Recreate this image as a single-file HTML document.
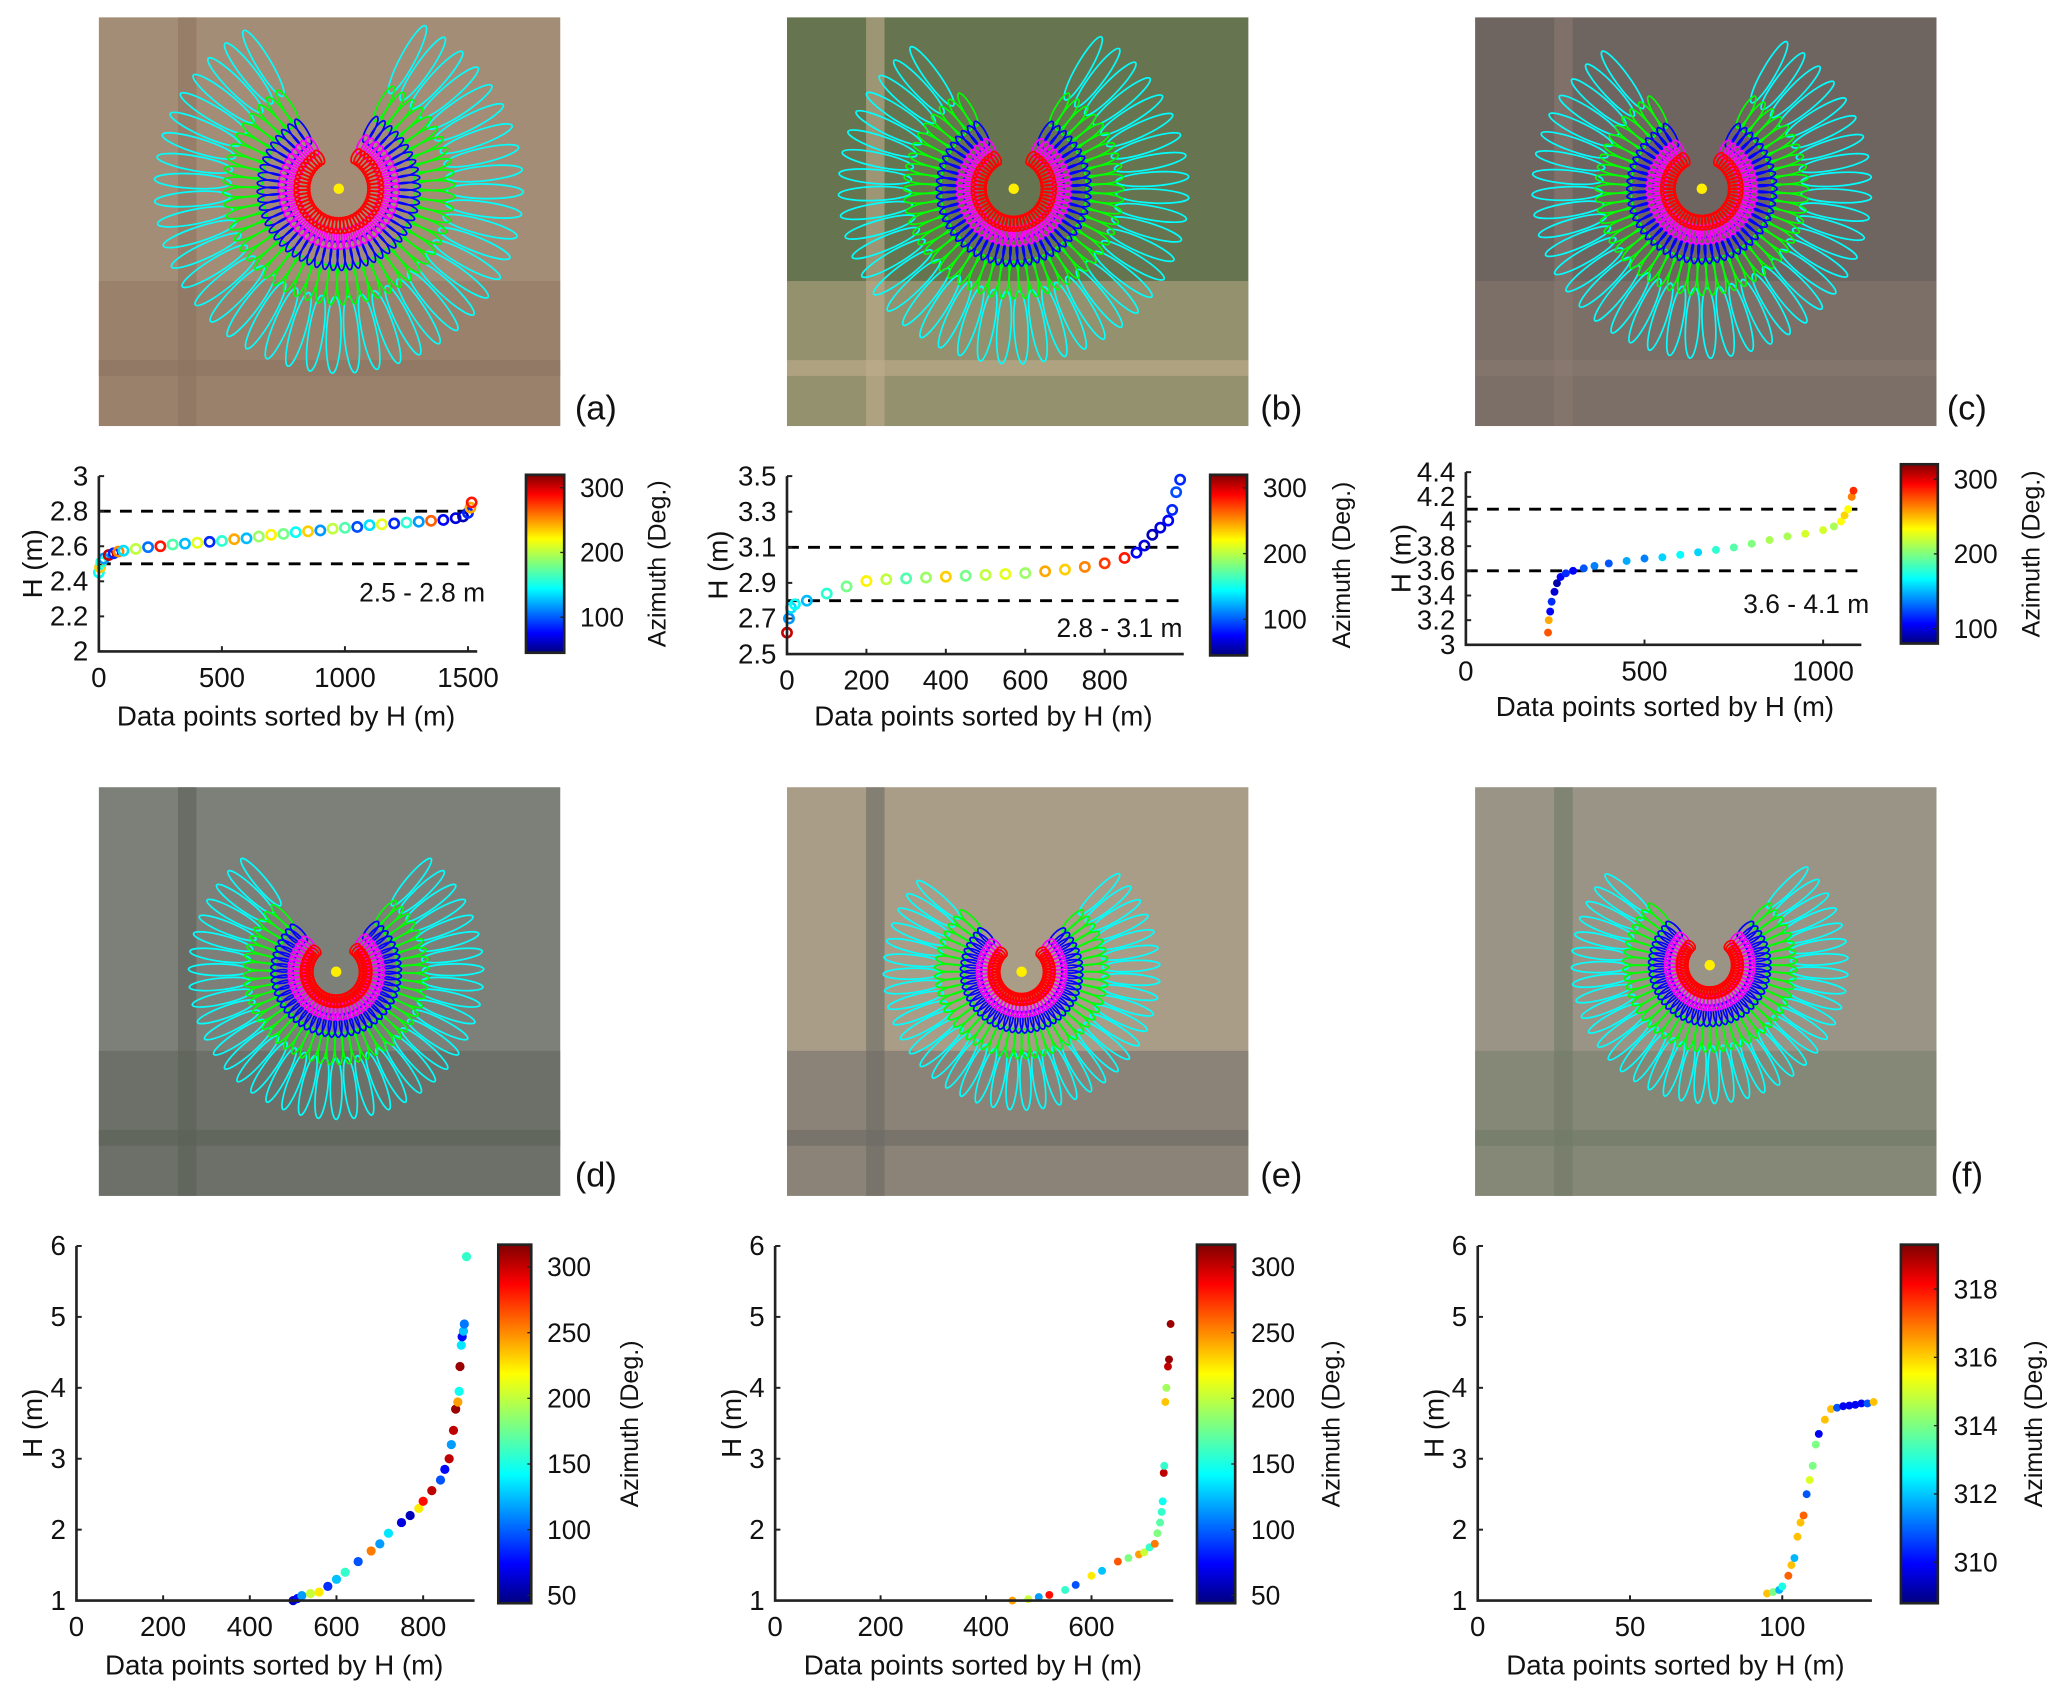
<!DOCTYPE html>
<html><head><meta charset="utf-8"><style>
html,body{margin:0;padding:0;background:#fff;}
svg{display:block;font-family:"Liberation Sans",Arial,sans-serif;}
</style></head><body>
<svg id="fig" width="2067" height="1701" viewBox="0 0 1568 1290" xmlns="http://www.w3.org/2000/svg">
<defs>
<linearGradient id="jet" x1="0" y1="1" x2="0" y2="0">
<stop offset="0" stop-color="#00007f"/><stop offset="0.11" stop-color="#0000ff"/><stop offset="0.36" stop-color="#00ffff"/><stop offset="0.5" stop-color="#7fff7f"/><stop offset="0.64" stop-color="#ffff00"/><stop offset="0.89" stop-color="#ff0000"/><stop offset="1" stop-color="#7f0000"/>
</linearGradient>
</defs>
<g id="root"></g>
</svg>
<script>
// ---- chart data (a) ----
const aX=[0,5,10,20,40,60,80,100,150,200,250,300,350,400,450,500,550,600,650,700,750,800,850,900,950,1000,1050,1100,1150,1200,1250,1300,1350,1400,1450,1480,1500,1510,1515];
const aH=[2.45,2.48,2.51,2.53,2.55,2.56,2.57,2.575,2.585,2.595,2.60,2.61,2.615,2.62,2.625,2.63,2.64,2.645,2.655,2.665,2.67,2.68,2.685,2.69,2.70,2.705,2.71,2.72,2.725,2.73,2.735,2.74,2.745,2.75,2.76,2.77,2.79,2.82,2.85];
const aAz=[150,230,160,120,300,90,250,140,200,110,280,170,130,210,90,160,240,130,190,220,180,150,230,120,200,170,100,140,210,90,160,120,260,80,70,60,90,240,280];
// ---- chart data (b) ----
const bX=[0,5,10,20,50,100,150,200,250,300,350,400,450,500,550,600,650,700,750,800,850,880,900,920,940,960,970,980,990];
const bH=[2.62,2.7,2.76,2.78,2.8,2.84,2.88,2.91,2.92,2.925,2.93,2.935,2.94,2.945,2.95,2.955,2.965,2.975,2.99,3.01,3.04,3.07,3.11,3.17,3.21,3.25,3.31,3.41,3.48];
const bAz=[300,120,140,150,130,160,180,220,200,170,190,230,180,200,210,190,240,230,250,270,280,80,70,60,70,80,90,100,90];
// ---- chart data (c) ----
const cX=[230,232,236,240,248,255,265,280,300,330,360,400,450,500,550,600,650,700,750,800,850,900,950,1000,1030,1050,1060,1070,1080,1085];
const cH=[3.1,3.2,3.27,3.35,3.43,3.5,3.55,3.58,3.6,3.62,3.64,3.66,3.68,3.7,3.71,3.73,3.75,3.77,3.79,3.82,3.85,3.88,3.9,3.93,3.96,4.0,4.05,4.1,4.2,4.25];
const cAz=[270,250,110,120,100,90,110,120,110,130,140,130,150,140,160,170,160,180,190,200,210,210,220,220,210,230,240,230,260,280];
// ---- chart data (d) ----
const dX=[500,510,520,540,560,580,600,620,650,680,700,720,750,770,790,800,820,840,850,860,865,870,875,880,883,885,888,890,893,895,900];
const dH=[1.0,1.03,1.07,1.1,1.12,1.2,1.3,1.4,1.55,1.7,1.8,1.95,2.1,2.2,2.3,2.4,2.55,2.7,2.85,3.0,3.2,3.4,3.7,3.8,3.95,4.3,4.6,4.72,4.8,4.9,5.85];
const dAz=[60,80,120,200,220,90,130,160,100,250,120,140,70,60,220,280,300,100,80,300,120,300,310,240,150,310,140,80,130,110,160];
// ---- chart data (e) ----
const eX=[450,480,500,520,550,570,600,620,650,670,690,700,710,720,725,730,733,735,737,738,740,742,745,747,750];
const eH=[1.0,1.02,1.05,1.08,1.15,1.22,1.35,1.42,1.55,1.6,1.65,1.68,1.75,1.8,1.95,2.1,2.25,2.4,2.8,2.9,3.8,4.0,4.3,4.4,4.9];
const eAz=[240,200,120,280,160,100,220,130,260,180,240,200,160,250,180,170,160,150,300,160,230,190,300,310,310];
// ---- chart data (f) ----
const fX=[95,97,99,100,102,103,104,105,106,107,108,109,110,111,112,114,116,118,120,122,124,126,128,130];
const fH=[1.1,1.12,1.15,1.2,1.35,1.5,1.6,1.9,2.1,2.2,2.5,2.7,2.9,3.2,3.35,3.55,3.7,3.72,3.74,3.75,3.76,3.78,3.78,3.8];
const fAz=[316,314,312,313,317,316,312,316,316,317,311,315,314,314,310,316,316,311,310,310,310,310,311,316];
// ---- tick labels ----
const aXT=[0,500,1000,1500], aYT=[2,2.2,2.4,2.6,2.8,3], aCT=[100,200,300];
const bXT=[0,200,400,600,800], bYT=[2.5,2.7,2.9,3.1,3.3,3.5], bCT=[100,200,300];
const cXT=[0,500,1000], cYT=[3,3.2,3.4,3.6,3.8,4,4.2,4.4], cCT=[100,200,300];
const dXT=[0,200,400,600,800], dYT=[1,2,3,4,5,6], dCT=[50,100,150,200,250,300];
const eXT=[0,200,400,600], eYT=[1,2,3,4,5,6], eCT=[50,100,150,200,250,300];
const fXT=[0,50,100], fYT=[1,2,3,4,5,6], fCT=[310,312,314,316,318];

const NS='http://www.w3.org/2000/svg';
const root=document.getElementById('root');
function mk(tag,attrs,parent){const e=document.createElementNS(NS,tag);for(const k in attrs)e.setAttribute(k,attrs[k]);(parent||root).appendChild(e);return e;}
function jet(t){t=Math.max(0,Math.min(1,t));
 const r=Math.max(0,Math.min(1,1.5-Math.abs(4*t-3))),g=Math.max(0,Math.min(1,1.5-Math.abs(4*t-2))),b=Math.max(0,Math.min(1,1.5-Math.abs(4*t-1)));
 return 'rgb('+Math.round(r*255)+','+Math.round(g*255)+','+Math.round(b*255)+')';}
function lin(v0,p0,v1,p1){return v=>p0+(v-v0)*(p1-p0)/(v1-v0);}

function drawPlot(c){
 const g=mk('g',{});
 
 
 const sx=lin(c.xv[0],c.xp[0],c.xv[1],c.xp[1]);
 const sy=lin(c.yv[0],c.yp[0],c.yv[1],c.yp[1]);
 const yb=sy(c.yT[0]), yt=sy(c.yT[c.yT.length-1]);
 const x0=sx(0);
 (c.dash||[]).forEach(v=>{const l=mk('line',{x1:x0,x2:c.axEnd,y1:sy(v),y2:sy(v),stroke:'#000','stroke-width':2.2,'stroke-dasharray':'9,7'},g);
  });
 const az=lin(c.cv[0],0,c.cv[1],1);
 for(let i=0;i<c.X.length;i++){
  const p=mk('circle',{cx:sx(c.X[i]),cy:sy(c.H[i]),r:c.r,fill:c.hollow?'none':jet(az(c.Az[i])),stroke:jet(az(c.Az[i])),'stroke-width':c.hollow?2:0},g);
  
 }
 const ax=mk('path',{d:'M'+x0+','+yt+' L'+x0+','+yb+' L'+c.axEnd+','+yb,fill:'none',stroke:'#222','stroke-width':2},g);
 
 c.xT.forEach(v=>{mk('line',{x1:sx(v),x2:sx(v),y1:yb,y2:yb-4,stroke:'#222','stroke-width':1.5},g);
  const t=mk('text',{x:sx(v),y:yb+27,'font-size':21,'text-anchor':'middle',fill:'#111'},g);t.textContent=v;
  });
 c.yT.forEach(v=>{mk('line',{x1:x0,x2:x0+4,y1:sy(v),y2:sy(v),stroke:'#222','stroke-width':1.5},g);
  const t=mk('text',{x:x0-8,y:sy(v)+7,'font-size':21,'text-anchor':'end',fill:'#111'},g);t.textContent=v;
  });
 const xt=mk('text',{x:c.titleX,y:c.titleY,'font-size':21,'text-anchor':'middle',fill:'#111'},g);xt.textContent='Data points sorted by H (m)';
 
 const yl=mk('text',{x:0,y:0,'font-size':21,'text-anchor':'middle',fill:'#111',transform:'translate('+c.yLabX+','+(yt+yb)/2+') rotate(-90)'},g);yl.textContent='H (m)';
 
 if(c.note){const n=mk('text',{x:c.note[1],y:c.note[2],'font-size':20,'text-anchor':'end',fill:'#111'},g);n.textContent=c.note[0];
  }
 const cb=mk('rect',{x:c.cb[0],y:c.cb[1],width:c.cb[2],height:c.cb[3],fill:'url(#jet)',stroke:'#222','stroke-width':2},g);
 
 const cy=lin(c.cv[0],c.cb[1]+c.cb[3],c.cv[1],c.cb[1]);
 c.cT.forEach(v=>{mk('line',{x1:c.cb[0]+c.cb[2]-3,x2:c.cb[0]+c.cb[2],y1:cy(v),y2:cy(v),stroke:'#222'},g);
  const t=mk('text',{x:c.cb[0]+c.cb[2]+12,y:cy(v)+7,'font-size':20,fill:'#111'},g);t.textContent=v;
  });
 const cl=mk('text',{x:0,y:0,'font-size':19,'text-anchor':'middle',fill:'#111',transform:'translate('+c.cLabX+','+(c.cb[1]+c.cb[3]/2)+') rotate(-90)'},g);cl.textContent='Azimuth (Deg.)';
 
}

drawPlot({name:'plot-a',X:aX,H:aH,Az:aAz,xT:aXT,yT:aYT,cT:aCT,xv:[0,1500],xp:[75,355],yv:[2,3],yp:[494,361],axEnd:362,r:3.5,hollow:true,
 dash:[2.5,2.8],note:['2.5 - 2.8 m',368,456],cb:[399,360,29,135],cv:[45,320],titleX:217,titleY:550,yLabX:32,cLabX:505});
drawPlot({name:'plot-b',X:bX,H:bH,Az:bAz,xT:bXT,yT:bYT,cT:bCT,xv:[0,800],xp:[597,838],yv:[2.5,3.5],yp:[496,361],axEnd:898,r:3.5,hollow:true,
 dash:[2.8,3.1],note:['2.8 - 3.1 m',897,483],cb:[918,360,28,137],cv:[45,320],titleX:746,titleY:550,yLabX:552,cLabX:1024});
drawPlot({name:'plot-c',X:cX,H:cH,Az:cAz,xT:cXT,yT:cYT,cT:cCT,xv:[0,1000],xp:[1112,1383],yv:[3,4.4],yp:[489,358],axEnd:1412,r:3,hollow:false,
 dash:[3.6,4.1],note:['3.6 - 4.1 m',1418,465],cb:[1442,352,28,136],cv:[80,320],titleX:1263,titleY:543,yLabX:1070,cLabX:1547});
drawPlot({name:'plot-d',X:dX,H:dH,Az:dAz,xT:dXT,yT:dYT,cT:dCT,xv:[0,800],xp:[58,321],yv:[1,6],yp:[1214,945],axEnd:360,r:3.5,hollow:false,
 cb:[378,944,25,272],cv:[44,317],titleX:208,titleY:1270,yLabX:32,cLabX:484});
drawPlot({name:'plot-e',X:eX,H:eH,Az:eAz,xT:eXT,yT:eYT,cT:eCT,xv:[0,600],xp:[588,828],yv:[1,6],yp:[1214,945],axEnd:890,r:3,hollow:false,
 cb:[908,944,29,272],cv:[44,317],titleX:738,titleY:1270,yLabX:562,cLabX:1016});
drawPlot({name:'plot-f',X:fX,H:fH,Az:fAz,xT:fXT,yT:fYT,cT:fCT,xv:[0,100],xp:[1121,1352],yv:[1,6],yp:[1214,945],axEnd:1420,r:3,hollow:false,
 cb:[1442,944,28,272],cv:[308.8,319.3],titleX:1271,titleY:1270,yLabX:1095,cLabX:1549});

const panels=[
 {n:'a',x:75,y:13,bg:'#a48d76',bg2:'#8d7560',cx:182,cy:130,s:1.0,gap:28,lx:452,ly:318},
 {n:'b',x:597,y:13,bg:'#66744f',bg2:'#bfae8e',cx:172,cy:130,s:0.95,gap:30,lx:972,ly:318},
 {n:'c',x:1119,y:13,bg:'#6f6560',bg2:'#8a7a70',cx:172,cy:130,s:0.92,gap:30,lx:1492,ly:318},
 {n:'d',x:75,y:597,bg:'#7d8078',bg2:'#5c6058',cx:180,cy:140,s:0.8,gap:40,lx:452,ly:900},
 {n:'e',x:597,y:597,bg:'#a99d88',bg2:'#6d6a66',cx:178,cy:140,s:0.75,gap:45,lx:972,ly:900},
 {n:'f',x:1119,y:597,bg:'#9a9486',bg2:'#6f7a68',cx:178,cy:135,s:0.75,gap:45,lx:1492,ly:900}];
const rings=[['#00ffff',82,140,7],['#00ff00',58,88,6],['#0000ff',40,62,6],['#ff00ff',30,46,6],['#ff0000',22,34,6]];
panels.forEach(p=>{
 const g=mk('g',{});
 
 
 mk('rect',{x:p.x,y:p.y,width:350,height:310,fill:p.bg},g);
 mk('rect',{x:p.x,y:p.y+200,width:350,height:110,fill:p.bg2,opacity:0.5},g);
 mk('rect',{x:p.x+60,y:p.y,width:14,height:310,fill:p.bg2,opacity:0.6},g);
 mk('rect',{x:p.x,y:p.y+260,width:350,height:12,fill:p.bg2,opacity:0.6},g);
 const cx=p.x+p.cx, cy=p.y+p.cy;
 rings.forEach(r=>{
  for(let a=p.gap;a<=360-p.gap;a+=r[3]){
   const rm=(r[1]+r[2])/2*p.s, len=(r[2]-r[1])/2*p.s;
   const ex=cx+rm*Math.sin(a*Math.PI/180), ey=cy-rm*Math.cos(a*Math.PI/180);
   mk('ellipse',{cx:ex,cy:ey,rx:len,ry:Math.max(3,rm*0.05),fill:'none',stroke:r[0],'stroke-width':1.3,transform:'rotate('+(a-90)+' '+ex+' '+ey+')'},g);
  }
 });
 mk('circle',{cx:cx,cy:cy,r:4,fill:'#ffee00'},g);
 const t=mk('text',{x:p.lx,y:p.ly,'font-size':26,'text-anchor':'middle',fill:'#111'},root);t.textContent='('+p.n+')';
 
 
});
</script>
</body></html>
